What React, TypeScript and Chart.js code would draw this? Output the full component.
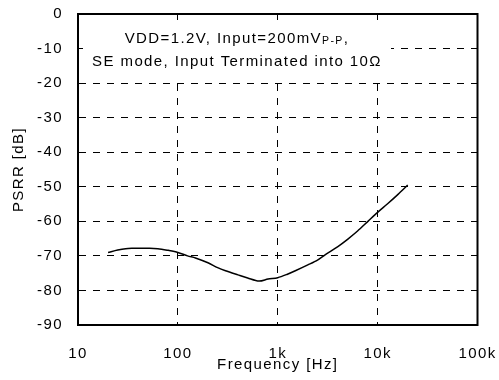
import React, { useEffect, useRef } from 'react';
import { Chart, registerables } from 'chart.js';

Chart.register(...registerables);

// ---- data ----
const frequencies = [20, 25, 30, 35, 40, 50, 63, 80, 100, 125, 150, 200, 250, 300, 400, 500, 650, 800, 1000, 1250, 1500, 2000, 2500, 3000, 4000, 5000, 6300, 8000, 10000, 12500, 16000, 20000];
const psrrValues = [-69.0, -68.3, -67.9, -67.8, -67.8, -67.8, -67.9, -68.4, -69.0, -70.0, -70.6, -72.0, -73.4, -74.3, -75.5, -76.4, -77.3, -76.7, -76.3, -75.3, -74.3, -72.6, -71.2, -69.6, -67.3, -65.2, -62.8, -60.0, -57.4, -55.0, -52.2, -49.5];

const xTickValues = [10, 100, 1000, 10000, 100000];
const xTickLabels = ['10', '100', '1k', '10k', '100k'];
const yTickValues = [0, -10, -20, -30, -40, -50, -60, -70, -80, -90];
const yTickLabels = ['0', '-10', '-20', '-30', '-40', '-50', '-60', '-70', '-80', '-90'];

const xTitle = 'Frequency [Hz]';
const yTitle = 'PSRR [dB]';
const noteLine1 = 'VDD=1.2V, Input=200mV';
const noteSub = 'P-P';
const noteLine1Tail = ',';
const noteLine2 = 'SE mode, Input Terminated into 10\u03A9';

const FONT_FAMILY = '"Liberation Sans", Arial, sans-serif';
const LETTER_SPACING = '1.4px';

const notePlugin = {
  id: 'notePlugin',
  beforeDraw(chart: any) {
    (chart.ctx as any).letterSpacing = LETTER_SPACING;
  },
  beforeDatasetsDraw(chart: any) {
    const { ctx, chartArea: a } = chart;
    ctx.save();
    const bx = a.left + 5;
    const by = a.top + 6;
    const bw = 308;
    const bh = 60;
    ctx.fillStyle = '#ffffff';
    ctx.fillRect(bx, by, bw, bh);
    const cx = bx + bw / 2;
    ctx.fillStyle = '#000';
    ctx.textBaseline = 'alphabetic';
    ctx.textAlign = 'left';
    const mainFont = `15px ${FONT_FAMILY}`;
    const subFont = `10.5px ${FONT_FAMILY}`;
    ctx.font = mainFont;
    const w1 = ctx.measureText(noteLine1).width;
    const wTail = ctx.measureText(noteLine1Tail).width;
    ctx.font = subFont;
    const wSub = ctx.measureText(noteSub).width;
    const total = w1 + wSub + wTail;
    let x = cx - total / 2;
    const base1 = a.top + 29;
    ctx.font = mainFont;
    ctx.fillText(noteLine1, x, base1);
    x += w1;
    ctx.font = subFont;
    ctx.fillText(noteSub, x, base1 + 1);
    x += wSub;
    ctx.font = mainFont;
    ctx.fillText(noteLine1Tail, x, base1);
    ctx.textAlign = 'center';
    ctx.fillText(noteLine2, cx, a.top + 52);
    ctx.restore();
  },
  afterDraw(chart: any) {
    const { ctx, chartArea: a } = chart;
    ctx.save();
    ctx.strokeStyle = '#000';
    ctx.lineWidth = 2;
    ctx.setLineDash([]);
    ctx.strokeRect(a.left, a.top, a.right - a.left, a.bottom - a.top);
    ctx.restore();
  },
};

export default function App() {
  const canvasRef = useRef<HTMLCanvasElement | null>(null);

  useEffect(() => {
    const canvas = canvasRef.current;
    if (!canvas) return;
    Chart.defaults.font.family = FONT_FAMILY;
    Chart.defaults.font.size = 15;
    Chart.defaults.color = '#000';

    const chart = new Chart(canvas, {
      type: 'line',
      data: {
        datasets: [
          {
            data: frequencies.map((f, i) => ({ x: f, y: psrrValues[i] })),
            borderColor: '#000',
            borderWidth: 1.5,
            pointRadius: 0,
            tension: 0.3,
            fill: false,
          },
        ],
      },
      options: {
        responsive: false,
        animation: false,
        devicePixelRatio: 1,
        layout: { padding: 0 },
        plugins: {
          legend: { display: false },
          tooltip: { enabled: false },
        },
        scales: {
          x: {
            type: 'logarithmic',
            min: 10,
            max: 100000,
            afterBuildTicks: (s: any) => {
              s.ticks = xTickValues.map((v) => ({ value: v }));
            },
            afterFit: (s: any) => {
              s.height = 55;
              s.paddingLeft = 0;
              s.paddingRight = 21.5;
            },
            ticks: {
              autoSkip: false,
              maxRotation: 0,
              minRotation: 0,
              padding: 20,
              color: '#000',
              font: { size: 15 },
              callback: (v: any) => {
                const i = xTickValues.indexOf(Number(v));
                return i >= 0 ? xTickLabels[i] : '';
              },
            },
            grid: { color: '#000', lineWidth: 1, drawTicks: false },
            border: { display: true, color: '#000', width: 2, dash: [7, 7] },
            title: {
              display: true,
              text: xTitle,
              color: '#000',
              font: { size: 15 },
              padding: { top: 0, bottom: 6 },
            },
          },
          y: {
            type: 'linear',
            min: -90,
            max: 0,
            afterBuildTicks: (s: any) => {
              s.ticks = yTickValues.slice().reverse().map((v) => ({ value: v }));
            },
            afterFit: (s: any) => {
              s.width = 78;
              s.paddingTop = 14;
              s.paddingBottom = 0;
            },
            ticks: {
              padding: 15,
              color: '#000',
              font: { size: 15 },
              callback: (v: any) => {
                const i = yTickValues.indexOf(Number(v));
                return i >= 0 ? yTickLabels[i] : '';
              },
            },
            grid: { color: '#000', lineWidth: 1, drawTicks: false },
            border: { display: true, color: '#000', width: 2, dash: [7, 7] },
            title: {
              display: true,
              text: yTitle,
              color: '#000',
              font: { size: 15 },
              padding: { top: 10, bottom: 0 },
            },
          },
        },
      } as any,
      plugins: [notePlugin],
    });

    return () => {
      chart.destroy();
    };
  }, []);

  return (
    <div style={{ position: 'absolute', left: 0, top: 0, width: 499, height: 380, background: '#fff' }}>
      <canvas ref={canvasRef} width={499} height={380} style={{ display: 'block' }} />
    </div>
  );
}
